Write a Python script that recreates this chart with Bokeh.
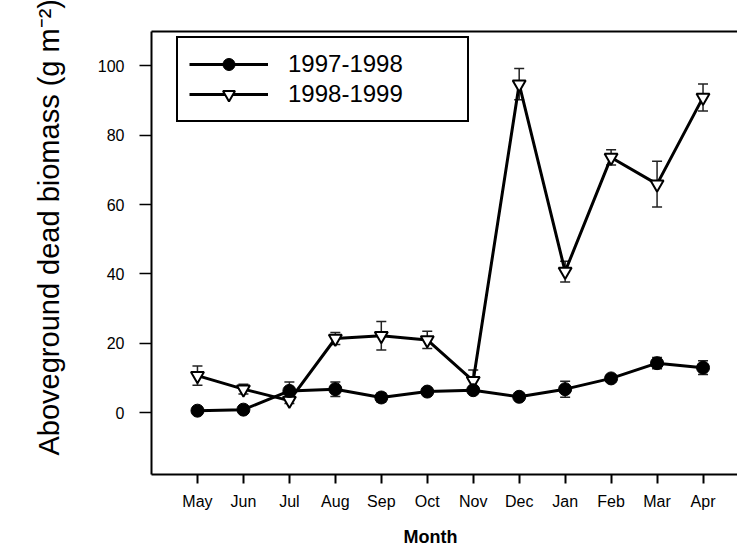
from bokeh.plotting import figure
from bokeh.models import (ColumnDataSource, Whisker, TeeHead, FixedTicker,
                          LinearAxis, Range1d, Legend, LegendItem, Title)
from bokeh.embed import file_html
from bokeh.resources import INLINE

# ---- data ----
months = ["May", "Jun", "Jul", "Aug", "Sep", "Oct", "Nov", "Dec", "Jan", "Feb", "Mar", "Apr"]
y_9798 = [0.6, 0.9, 6.3, 6.8, 4.4, 6.1, 6.5, 4.6, 6.8, 9.9, 14.3, 13.0]
err_9798 = [0.4, 0.4, 2.6, 2.1, 1.3, 0.8, 0.8, 0.6, 2.3, 1.0, 1.6, 2.0]
y_9899 = [10.7, 6.8, 3.5, 21.4, 22.2, 21.0, 9.2, 94.7, 40.7, 73.6, 65.9, 90.9]
err_9899 = [2.8, 1.4, 0.8, 1.7, 4.1, 2.5, 3.1, 4.5, 3.0, 2.2, 6.6, 3.9]
yticks = [0, 20, 40, 60, 80, 100]
series_names = ["1997-1998", "1998-1999"]
x_title = "Month"
y_title = "Aboveground dead biomass (g m\u207b\u00b2)"

FONT = "Liberation Sans"
idx = list(range(len(months)))

src1 = ColumnDataSource(dict(x=idx, y=y_9798,
                             lo=[v - e for v, e in zip(y_9798, err_9798)],
                             hi=[v + e for v, e in zip(y_9798, err_9798)]))
src2 = ColumnDataSource(dict(x=idx, y=y_9899,
                             lo=[v - e for v, e in zip(y_9899, err_9899)],
                             hi=[v + e for v, e in zip(y_9899, err_9899)]))

p = figure(width=737, height=559, output_backend="svg", toolbar_location=None,
           x_range=Range1d(-1.0, 11.75), y_range=Range1d(-17.8, 109.9),
           min_border_left=151, min_border_right=0, min_border_top=31,
           min_border_bottom=85)
p.outline_line_color = None
p.xgrid.visible = False
p.ygrid.visible = False
p.background_fill_color = "white"
p.border_fill_color = "white"

# error bars
for src in (src1, src2):
    w = Whisker(source=src, base="x", upper="hi", lower="lo",
                line_color="#222222", line_width=1.5,
                upper_head=TeeHead(size=10, line_color="#222222", line_width=1.5),
                lower_head=TeeHead(size=10, line_color="#222222", line_width=1.5))
    p.add_layout(w)

l2 = p.line("x", "y", source=src2, line_color="black", line_width=3)
s2 = p.scatter("x", "y", source=src2, marker="inverted_triangle", size=13,
               fill_color="white", line_color="black", line_width=2)
l1 = p.line("x", "y", source=src1, line_color="black", line_width=3)
s1 = p.scatter("x", "y", source=src1, marker="circle", size=13,
               fill_color="black", line_color="black")

legend = Legend(items=[LegendItem(label=series_names[0], renderers=[l1, s1]),
                       LegendItem(label=series_names[1], renderers=[l2, s2])],
                location=(25, 352))
legend.border_line_color = "black"
legend.border_line_width = 2
legend.border_line_alpha = 1
legend.label_text_font = FONT
legend.label_text_font_size = "24px"
legend.label_text_color = "black"
legend.glyph_width = 79
legend.glyph_height = 30
legend.label_height = 30
legend.label_width = 168
legend.label_standoff = 20
legend.spacing = 0
legend.padding = 11
legend.margin = 0
legend.background_fill_alpha = 1
p.add_layout(legend)

# x axis
xa = p.xaxis[0]
xa.ticker = FixedTicker(ticks=idx)
xa.major_label_overrides = {i: m for i, m in zip(idx, months)}
xa.minor_tick_line_color = None
xa.major_tick_in = 0
xa.major_tick_out = 9
xa.major_tick_line_width = 2
xa.axis_line_width = 2
xa.major_label_text_font = FONT
xa.major_label_text_font_size = "16px"
xa.major_label_text_color = "black"
xa.major_label_standoff = 9

# y axis
ya = p.yaxis[0]
ya.ticker = FixedTicker(ticks=yticks)
ya.minor_tick_line_color = None
ya.major_tick_in = 0
ya.major_tick_out = 12
ya.major_tick_line_width = 1.5
ya.axis_line_width = 2
ya.major_label_text_font = FONT
ya.major_label_text_font_size = "16px"
ya.major_label_text_color = "black"
ya.major_label_standoff = 15

# axis titles (Title objects so they can be offset along the axis)
p.add_layout(Title(text=x_title, align="left", offset=252, standoff=24,
                   text_font=FONT, text_font_style="bold",
                   text_font_size="18px", text_color="black"), "below")
p.add_layout(Title(text=y_title, align="left", offset=19, standoff=60,
                   text_font=FONT, text_font_style="normal",
                   text_font_size="29px", text_color="black"), "left")

# top frame line
top = LinearAxis(axis_line_width=2, ticker=FixedTicker(ticks=[]),
                 major_tick_line_color=None, minor_tick_line_color=None,
                 major_tick_out=0, major_tick_in=0, major_label_standoff=0)
p.add_layout(top, "above")

open("out.html", "w").write(file_html(p, INLINE))
